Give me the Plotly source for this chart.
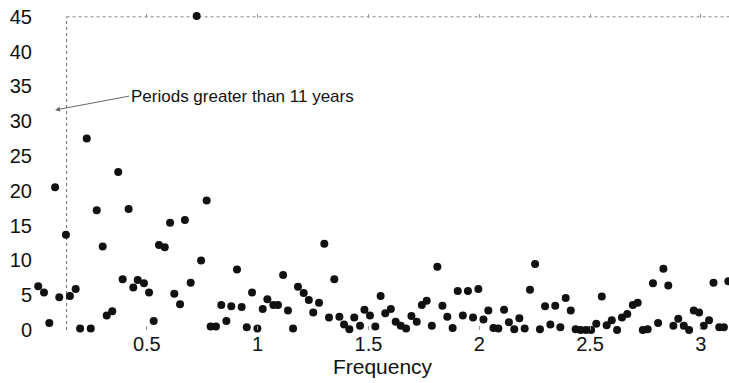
import plotly.graph_objects as go

# Frequencies and periodogram values
frequency = [
    0.010, 0.036, 0.060, 0.086, 0.105, 0.135, 0.153, 0.179, 0.199, 0.229,
    0.247, 0.274, 0.301, 0.319, 0.344, 0.371, 0.391, 0.418, 0.439, 0.459,
    0.487, 0.510, 0.531, 0.555, 0.581, 0.605, 0.624, 0.650, 0.672, 0.698,
    0.725, 0.745, 0.770, 0.788, 0.812, 0.836, 0.859, 0.881, 0.907, 0.928,
    0.951, 0.975, 0.999, 1.023, 1.044, 1.071, 1.092, 1.115, 1.137, 1.160,
    1.182, 1.208, 1.231, 1.251, 1.277, 1.301, 1.322, 1.346, 1.369, 1.390,
    1.414, 1.436, 1.462, 1.482, 1.507, 1.531, 1.555, 1.576, 1.601, 1.623,
    1.646, 1.670, 1.694, 1.718, 1.741, 1.763, 1.786, 1.811, 1.834, 1.856,
    1.880, 1.903, 1.926, 1.949, 1.972, 1.996, 2.019, 2.041, 2.064, 2.086,
    2.112, 2.134, 2.158, 2.181, 2.205, 2.229, 2.252, 2.274, 2.297, 2.321,
    2.343, 2.366, 2.390, 2.413, 2.435, 2.458, 2.482, 2.505, 2.528, 2.553,
    2.575, 2.598, 2.622, 2.644, 2.668, 2.693, 2.715, 2.738, 2.760, 2.784,
    2.807, 2.831, 2.853, 2.876, 2.898, 2.923, 2.947, 2.968, 2.992, 3.013,
    3.037, 3.057, 3.083, 3.104, 3.124,
]
periodogram = [
    6.3, 5.4, 1.0, 20.5, 4.7, 13.7, 4.9, 5.9, 0.2, 27.5,
    0.2, 17.2, 12.0, 2.1, 2.7, 22.7, 7.3, 17.4, 6.1, 7.2,
    6.7, 5.4, 1.3, 12.2, 11.9, 15.4, 5.2, 3.7, 15.8, 6.8,
    45.1, 10.0, 18.6, 0.5, 0.5, 3.6, 1.3, 3.4, 8.7, 3.3,
    0.4, 5.4, 0.2, 3.0, 4.4, 3.6, 3.6, 7.9, 2.8, 0.2,
    6.2, 5.3, 4.3, 2.5, 3.9, 12.4, 1.8, 7.3, 1.9, 0.8,
    0.1, 1.8, 0.6, 2.9, 2.1, 0.5, 4.9, 2.4, 3.0, 1.2,
    0.6, 0.2, 2.0, 1.2, 3.6, 4.2, 0.6, 9.1, 3.5, 1.9,
    0.3, 5.6, 2.1, 5.6, 1.8, 5.9, 1.5, 2.8, 0.3, 0.2,
    2.9, 1.1, 0.1, 1.7, 0.2, 5.8, 9.5, 0.1, 3.4, 0.8,
    3.5, 0.4, 4.6, 2.8, 0.1, 0.0, 0.0, 0.0, 0.9, 4.8,
    0.7, 1.4, 0.0, 1.8, 2.3, 3.6, 3.9, 0.0, 0.1, 6.7,
    1.0, 8.8, 6.4, 0.6, 1.6, 0.6, 0.0, 2.8, 2.5, 0.6,
    1.4, 6.8, 0.4, 0.4, 7.0,
]

x_ticks = [0.5, 1, 1.5, 2, 2.5, 3]
x_tick_labels = ["0.5", "1", "1.5", "2", "2.5", "3"]
y_ticks = [0, 5, 10, 15, 20, 25, 30, 35, 40, 45]

cutoff_freq = 0.138   # dotted line: periods greater than 11 years
x_max = 3.127
y_top = 45
y_max = 45.4

font_family = "Liberation Sans, Arial, Helvetica, sans-serif"

fig = go.Figure()
fig.add_trace(go.Scatter(
    x=frequency, y=periodogram, mode="markers",
    marker=dict(symbol="circle", size=8, color="#111111"),
    cliponaxis=False, showlegend=False, hoverinfo="x+y",
))

# dotted frame pieces and cut-off line
fig.add_shape(type="line", xref="x", yref="y", x0=cutoff_freq, x1=x_max, y0=y_top, y1=y_top,
              line=dict(color="#888888", width=1, dash="dot"), layer="below")
fig.add_shape(type="line", xref="x", yref="y", x0=cutoff_freq, x1=cutoff_freq, y0=0, y1=y_top,
              line=dict(color="#666666", width=1, dash="dot"), layer="below")
fig.add_shape(type="line", xref="x", yref="y", x0=0.05, x1=x_max, y0=-0.15, y1=-0.15,
              line=dict(color="#bbbbbb", width=1, dash="dot"), layer="below")

fig.add_annotation(
    x=0.086, y=31.6, xref="x", yref="y",
    ax=0.42, ay=33.6, axref="x", ayref="y",
    text="Periods greater than 11 years",
    xanchor="left", yanchor="middle",
    showarrow=True, arrowhead=2, arrowsize=1, arrowwidth=1, arrowcolor="#666666",
    font=dict(family=font_family, size=17, color="#111111"),
)

fig.update_layout(
    width=729, height=383,
    margin=dict(l=36, r=0, t=14, b=53),
    paper_bgcolor="white", plot_bgcolor="white",
    font=dict(family=font_family, size=20, color="#111111"),
    xaxis=dict(
        range=[0, x_max], tickvals=x_ticks, ticktext=x_tick_labels,
        showgrid=False, zeroline=False, showline=False,
        ticks="inside", ticklen=4, tickcolor="#999999", mirror="ticks",
        ticklabelstandoff=0,
        title=dict(text="Frequency", standoff=0, font=dict(size=21)),
    ),
    yaxis=dict(
        range=[0, y_max], tickvals=y_ticks,
        showgrid=False, zeroline=False, showline=False,
        ticks="", ticklabelstandoff=3,
    ),
)

fig.write_html("out.html")
